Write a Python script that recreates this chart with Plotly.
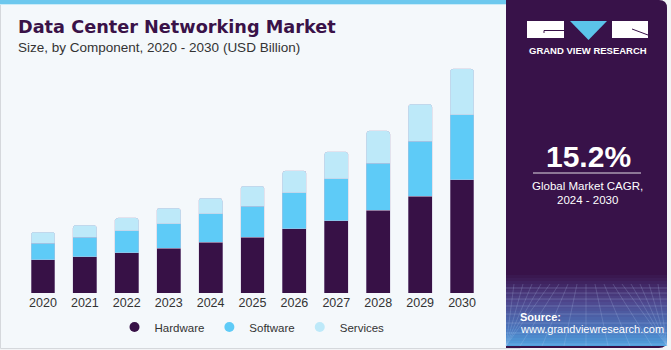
import plotly.graph_objects as go

years = ["2020", "2021", "2022", "2023", "2024", "2025", "2026", "2027", "2028", "2029", "2030"]
hardware = [13.3, 14.5, 16.1, 18.1, 20.5, 22.5, 25.8, 29.0, 33.4, 39.0, 45.5]
software = [6.8, 8.0, 8.9, 9.7, 11.3, 12.5, 14.5, 16.9, 18.9, 22.1, 26.2]
services = [4.4, 4.8, 5.2, 6.4, 6.4, 8.0, 8.9, 10.9, 12.9, 14.9, 18.5]
series_names = ["Hardware", "Software", "Services"]
series_colors = ["#371146", "#5ECBF7", "#BDE9F9"]
highlight_year = "2023"
highlight_label = "$34.2B"
cagr_value = "15.2%"
cagr_label_1 = "Global Market CAGR,"
cagr_label_2 = "2024 - 2030"

W, H = 671, 350
def px(x): return x / W
def py(y): return 1 - y / H

fig = go.Figure()
for name, vals, col in zip(series_names, [hardware, software, services], series_colors):
    fig.add_trace(go.Bar(
        x=years, y=vals, name=name, marker_color=col,
        marker_line=dict(color="rgba(200,190,215,0.55)", width=0.7),
        showlegend=False, width=0.57,
    ))
for name, col in zip(series_names, series_colors):
    fig.add_trace(go.Scatter(
        x=[None], y=[None], mode="markers", name=name,
        marker=dict(symbol="circle", size=10, color=col),
    ))

shapes = []
# card border
shapes.append(dict(type="rect", xref="paper", yref="paper", x0=px(0.5), x1=px(520), y0=py(348.5), y1=py(0),
                   line=dict(color="#D5D8DC", width=1), fillcolor="#F4F8FB", layer="below"))
# top strip
shapes.append(dict(type="rect", xref="paper", yref="paper", x0=px(0), x1=px(506), y0=py(4), y1=py(0),
                   line=dict(width=0), fillcolor="#6DC8EE", layer="below"))
shapes.append(dict(type="rect", xref="paper", yref="paper", x0=px(0), x1=px(506), y0=py(5), y1=py(4),
                   line=dict(width=0), fillcolor="#C9EBF8", layer="below"))

# right panel (rounded right corners)
r = 8
x0, x1, y0, y1 = 506, 667, 0, 348
path = (f"M {px(x0)},{py(y0)} L {px(x1-r)},{py(y0)} Q {px(x1)},{py(y0)} {px(x1)},{py(y0+r)} "
        f"L {px(x1)},{py(y1-r)} Q {px(x1)},{py(y1)} {px(x1-r)},{py(y1)} L {px(x0)},{py(y1)} Z")
shapes.append(dict(type="path", xref="paper", yref="paper", path=path,
                   line=dict(width=0), fillcolor="#381249", layer="below"))

# gradient bottom of panel
def lerp(c1, c2, t):
    return tuple(int(round(a + (b - a) * t)) for a, b in zip(c1, c2))
stops = [(272, (56, 18, 73)), (300, (78, 70, 140)), (328, (75, 120, 190)), (346, (80, 165, 225))]
ystart = 272
step = 3
yy = ystart
while yy < 346:
    for i in range(len(stops) - 1):
        if stops[i][0] <= yy < stops[i + 1][0]:
            t = (yy - stops[i][0]) / (stops[i + 1][0] - stops[i][0])
            c = lerp(stops[i][1], stops[i + 1][1], t)
    shapes.append(dict(type="rect", xref="paper", yref="paper", x0=px(506), x1=px(667),
                       y0=py(min(yy + step, 346)), y1=py(yy), line=dict(width=0),
                       fillcolor=f"rgb{c}", layer="below"))
    yy += step
# grid lines in the gradient
for gy in [288, 293, 299, 306, 314, 323, 333, 344]:
    shapes.append(dict(type="line", xref="paper", yref="paper", x0=px(506), x1=px(667), y0=py(gy), y1=py(gy),
                       line=dict(color="rgba(190,210,245,0.22)", width=1), layer="below"))
for k in range(-8, 9):
    xt = 586 + k * 9
    xb = 586 + k * 22
    shapes.append(dict(type="line", xref="paper", yref="paper", x0=px(max(506, min(667, xt))), x1=px(max(506, min(667, xb))),
                       y0=py(284), y1=py(346), line=dict(color="rgba(190,210,245,0.2)", width=1), layer="below"))

# logo
shapes.append(dict(type="rect", xref="paper", yref="paper", x0=px(527), x1=px(564), y0=py(38), y1=py(21),
                   line=dict(width=0), fillcolor="white", layer="below"))
shapes.append(dict(type="path", xref="paper", yref="paper",
                   path=f"M {px(570)},{py(21)} L {px(607)},{py(21)} L {px(588.5)},{py(40)} Z",
                   line=dict(width=0), fillcolor="#5BC4EA", layer="below"))
shapes.append(dict(type="rect", xref="paper", yref="paper", x0=px(612), x1=px(648), y0=py(38), y1=py(21),
                   line=dict(width=0), fillcolor="white", layer="below"))
shapes.append(dict(type="line", xref="paper", yref="paper", x0=px(544), x1=px(564), y0=py(30.5), y1=py(30.5),
                   line=dict(color="#381249", width=1)))
shapes.append(dict(type="line", xref="paper", yref="paper", x0=px(544), x1=px(544), y0=py(30.5), y1=py(33),
                   line=dict(color="#381249", width=1)))
shapes.append(dict(type="line", xref="paper", yref="paper", x0=px(632), x1=px(648), y0=py(29), y1=py(35),
                   line=dict(color="#381249", width=1)))
# CAGR underline
shapes.append(dict(type="line", xref="paper", yref="paper", x0=px(533), x1=px(641), y0=py(173), y1=py(173),
                   line=dict(color="rgba(255,255,255,0.85)", width=1)))

ann = []
def txt(x, y, text, size, color, xanchor="left", family="Liberation Sans", weight="normal"):
    ann.append(dict(xref="paper", yref="paper", x=px(x), y=py(y), text=text, showarrow=False,
                    xanchor=xanchor, yanchor="middle",
                    font=dict(family=family, size=size, color=color, weight=weight)))

txt(16, 27, "Data Center Networking Market", 17.7, "#3A1248", family="DejaVu Sans", weight="bold")
txt(16, 48, "Size, by Component, 2020 - 2030 (USD Billion)", 13.5, "#333333")
txt(587.5, 51, "GRAND VIEW RESEARCH", 9.5, "white", xanchor="center", weight="bold")
txt(588, 156, cagr_value, 30, "white", xanchor="center", weight="bold")
txt(587, 186, cagr_label_1, 11.5, "white", xanchor="center")
txt(587, 200, cagr_label_2, 11.5, "white", xanchor="center")
txt(518, 317, "Source:", 11, "white", weight="bold")
txt(518, 329, "www.grandviewresearch.com", 11, "white")

idx = years.index(highlight_year)
total = hardware[idx] + software[idx] + services[idx]
ann.append(dict(x=highlight_year, y=total, xref="x", yref="y", text=highlight_label, showarrow=False,
                yanchor="bottom", yshift=4, font=dict(family="Liberation Sans", size=13, color="#333333")))

fig.update_layout(
    width=W, height=H, autosize=False,
    margin=dict(l=0, r=0, t=0, b=0),
    paper_bgcolor="#F2F4F6", plot_bgcolor="rgba(0,0,0,0)",
    barmode="stack", bargap=0.43, barcornerradius=3,
    xaxis=dict(domain=[px(22), px(483)], type="category", range=[-0.5, 10.5],
               showgrid=False, zeroline=False, showline=False, ticks="",
               tickfont=dict(family="Liberation Sans", size=12.5, color="#333333")),
    yaxis=dict(domain=[py(293), py(60)], range=[0, 93.76], visible=False),
    legend=dict(orientation="h", x=px(252), y=py(327), xanchor="center", yanchor="middle",
                traceorder="normal",
                font=dict(family="Liberation Sans", size=11.5, color="#333333"),
                bgcolor="rgba(0,0,0,0)", itemwidth=30),
    shapes=shapes, annotations=ann,
)
fig.write_html("out.html")
